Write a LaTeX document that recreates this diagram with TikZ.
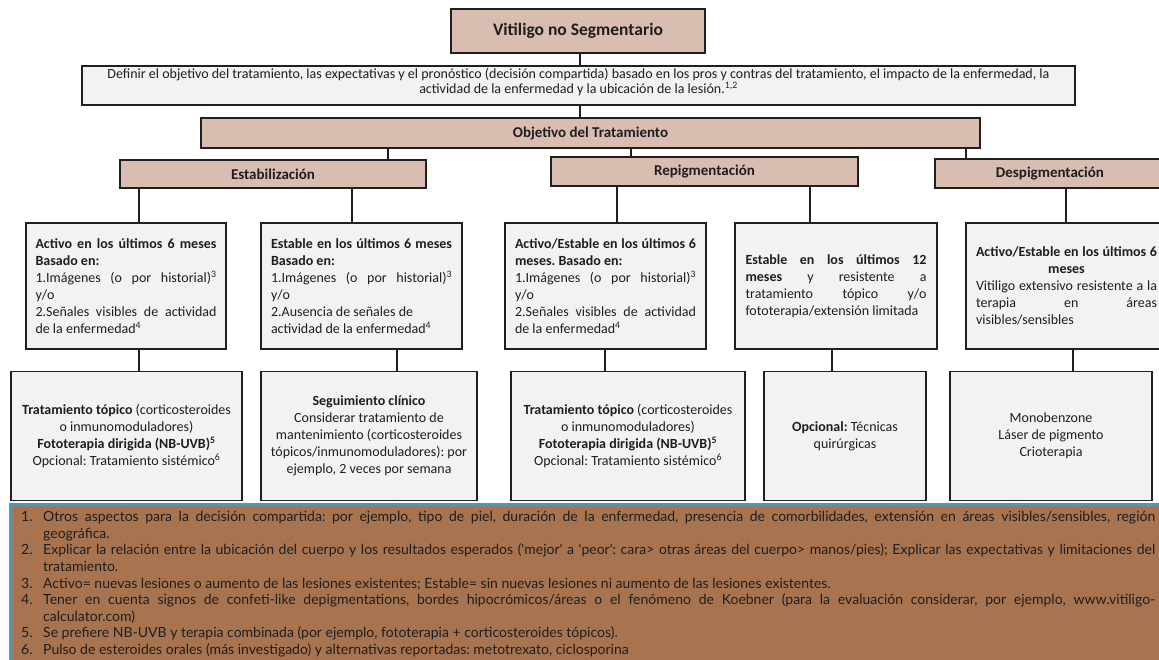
\documentclass[tikz,border=0pt]{standalone}
\usepackage{fontspec}
\setmainfont{Carlito}
\newfontfamily\footfont{Lato}
\frenchspacing
\definecolor{boxtan}{RGB}{217,189,177}
\definecolor{boxgray}{RGB}{242,242,242}
\definecolor{footbrown}{RGB}{168,116,80}
\definecolor{footblue}{RGB}{52,160,214}
\definecolor{ink}{RGB}{30,30,30}
\tikzset{
  base/.style={draw=black!88, line width=1.6pt, inner sep=0pt, outer sep=0pt, text=ink},
  tanbox/.style={base, fill=boxtan, font=\bfseries\fontsize{15}{18}\selectfont},
  graybox/.style={base, fill=boxgray, font=\fontsize{14}{17}\selectfont},
  jbox/.style={graybox, minimum height=126, text width=181pt, align=justify},
  cbox/.style={graybox, minimum height=129, align=center},
  conn/.style={draw=black!88, line width=1.6pt},
}
\begin{document}
\begin{tikzpicture}[x=1pt,y=-1pt]
\useasboundingbox (0,0) rectangle (1159,660);
\clip (0,0) rectangle (1159,660);

% top
\node[tanbox, minimum width=254, minimum height=44, font=\bfseries\fontsize{17.5}{21}\selectfont] (title) at (578,31) {Vitiligo no Segmentario};
\node[graybox, minimum width=993, minimum height=39] (def) at (578.5,85.5) {};
\node[inner sep=0pt, align=center, font=\fontsize{14}{15}\selectfont, text=ink] (deftext) at ([yshift=3pt]def.center) {Definir el objetivo del tratamiento, las expectativas y el pronóstico (decisión compartida) basado en los pros y contras del tratamiento, el impacto de la enfermedad, la\\ actividad de la enfermedad y la ubicación de la lesión.\textsuperscript{1,2}};
\node[tanbox, minimum width=779, minimum height=30] (obj) at (590.5,133) {Objetivo del Tratamiento};

\node[tanbox, minimum width=306, minimum height=28] (estab) at (273,174) {Estabilización};
\node[tanbox, minimum width=307, minimum height=29] (repig) at (704.5,171.5) {Repigmentación};
\node[tanbox, minimum width=230, minimum height=29] (despig) at (1050,173.5) {Despigmentación};

% row 3
\node[jbox, minimum width=200] (r1) at (126,286) {\textbf{Activo en los últimos 6 meses}\linebreak \textbf{Basado en:}\\ 1.Imágenes (o por historial)\textsuperscript{3}\linebreak y/o\\ 2.Señales visibles de actividad\linebreak de la enfermedad\textsuperscript{4}};
\node[jbox, minimum width=201] (r2) at (361.5,286) {\textbf{Estable en los últimos 6 meses}\linebreak \textbf{Basado en:}\\ 1.Imágenes (o por historial)\textsuperscript{3}\linebreak y/o\\ 2.Ausencia de señales de\\ actividad de la enfermedad\textsuperscript{4}};
\node[jbox, minimum width=201] (r3) at (605.5,286) {\textbf{Activo/Estable en los últimos 6}\linebreak \textbf{meses. Basado en:}\\ 1.Imágenes (o por historial)\textsuperscript{3}\linebreak y/o\\ 2.Señales visibles de actividad\linebreak de la enfermedad\textsuperscript{4}};
\node[jbox, minimum width=202] (r4) at (836,286) {\textbf{Estable en los últimos 12}\linebreak \textbf{meses} y resistente a\linebreak tratamiento tópico y/o\linebreak fototerapia/extensión limitada};
\node[jbox, minimum width=201] (r5) at (1066.5,286) {\textbf{Activo/Estable en los últimos 6}\linebreak \hspace*{\fill}\textbf{meses}\hspace*{\fill}\linebreak Vitiligo extensivo resistente a la\linebreak terapia en áreas\linebreak visibles/sensibles};

% row 4
\node[cbox, minimum width=231] (s1) at (126.5,436) {\textbf{Tratamiento tópico} (corticosteroides\\ o inmunomoduladores)\\ \textbf{Fototerapia dirigida (NB-UVB)\textsuperscript{5}}\\ Opcional: Tratamiento sistémico\textsuperscript{6}};
\node[cbox, minimum width=216] (s2) at (369,436) {\textbf{Seguimiento clínico}\\ Considerar tratamiento de\\ mantenimiento (corticosteroides\\ tópicos/inmunomoduladores): por\\ ejemplo, 2 veces por semana};
\node[cbox, minimum width=234] (s3) at (628,436) {\textbf{Tratamiento tópico} (corticosteroides\\ o inmunomoduladores)\\ \textbf{Fototerapia dirigida (NB-UVB)\textsuperscript{5}}\\ Opcional: Tratamiento sistémico\textsuperscript{6}};
\node[cbox, minimum width=162] (s4) at (845,436) {\textbf{Opcional:} Técnicas\\ quirúrgicas};
\node[cbox, minimum width=202] (s5) at (1051,436) {Monobenzone\\ Láser de pigmento\\ Crioterapia};

% connectors
\coordinate (xa) at (580,0);
\draw[conn] (title.south -| xa) -- (def.north -| xa);
\draw[conn] (def.south -| xa) -- (obj.north -| xa);
\coordinate (xb) at (388,0);
\coordinate (xc) at (631,0);
\coordinate (xd) at (966,0);
\draw[conn] (obj.south -| xb) -- (estab.north -| xb);
\draw[conn] (obj.south -| xc) -- (repig.north -| xc);
\draw[conn] (obj.south -| xd) -- (despig.north -| xd);
\draw[conn] (estab.south -| r1.north) ++(13,0) coordinate (e1) -- (e1 |- r1.north);
\draw[conn] ([xshift=-9.5pt]estab.south -| r2.north) coordinate (e2) -- (e2 |- r2.north);
\draw[conn] ([xshift=11.5pt]repig.south -| r3.north) coordinate (e3) -- (e3 |- r3.north);
\draw[conn] ([xshift=-26pt]repig.south -| r4.north) coordinate (e4) -- (e4 |- r4.north);
\draw[conn] ([xshift=-0.5pt]despig.south -| r5.north) coordinate (e5) -- (e5 |- r5.north);
\draw[conn] ([xshift=13pt]r1.south) coordinate (f1) -- (f1 |- s1.north);
\draw[conn] ([xshift=35.5pt]r2.south) coordinate (f2) -- (f2 |- s2.north);
\draw[conn] ([xshift=-0.5pt]r3.south) coordinate (f3) -- (f3 |- s3.north);
\draw[conn] ([xshift=-4pt]r4.south) coordinate (f4) -- (f4 |- s4.north);
\draw[conn] ([xshift=6.5pt]r5.south) coordinate (f5) -- (f5 |- s5.north);

% footer
\node[fill=footbrown, draw=footblue, line width=2.5pt, minimum width=1170, minimum height=170, anchor=north west, inner sep=0pt] (foot) at (9,503) {};
\node[anchor=base west, inner sep=0pt, text width=1134pt, align=justify, text=ink,
  font=\footfont\fontsize{14}{16.6}\selectfont] (notes) at (21,505) {%
\frenchspacing\hyphenpenalty=10000\exhyphenpenalty=10000
\def\fitem#1{\par\noindent\hangindent=22pt\hangafter=1\makebox[22pt][l]{#1}\ignorespaces}%
\fitem{1.}Otros aspectos para la decisión compartida: por ejemplo, tipo de piel, duración de la enfermedad, presencia de comorbilidades, extensión en áreas visibles/sensibles, región\linebreak geográfica.
\fitem{2.}Explicar la relación entre la ubicación del cuerpo y los resultados esperados (\textquotesingle mejor\textquotesingle{} a \textquotesingle peor\textquotesingle: cara> otras áreas del cuerpo> manos/pies); Explicar las expectativas y limitaciones del\linebreak tratamiento.
\fitem{3.}Activo= nuevas lesiones o aumento de las lesiones existentes; Estable= sin nuevas lesiones ni aumento de las lesiones existentes.
\fitem{4.}Tener en cuenta signos de confeti-like depigmentations, bordes hipocrómicos/áreas o el fenómeno de Koebner (para la evaluación considerar, por ejemplo, www.vitiligo-\linebreak calculator.com)
\fitem{5.}Se prefiere NB-UVB y terapia combinada (por ejemplo, fototerapia + corticosteroides tópicos).
\fitem{6.}Pulso de esteroides orales (más investigado) y alternativas reportadas: metotrexato, ciclosporina\par};
\end{tikzpicture}
\end{document}
